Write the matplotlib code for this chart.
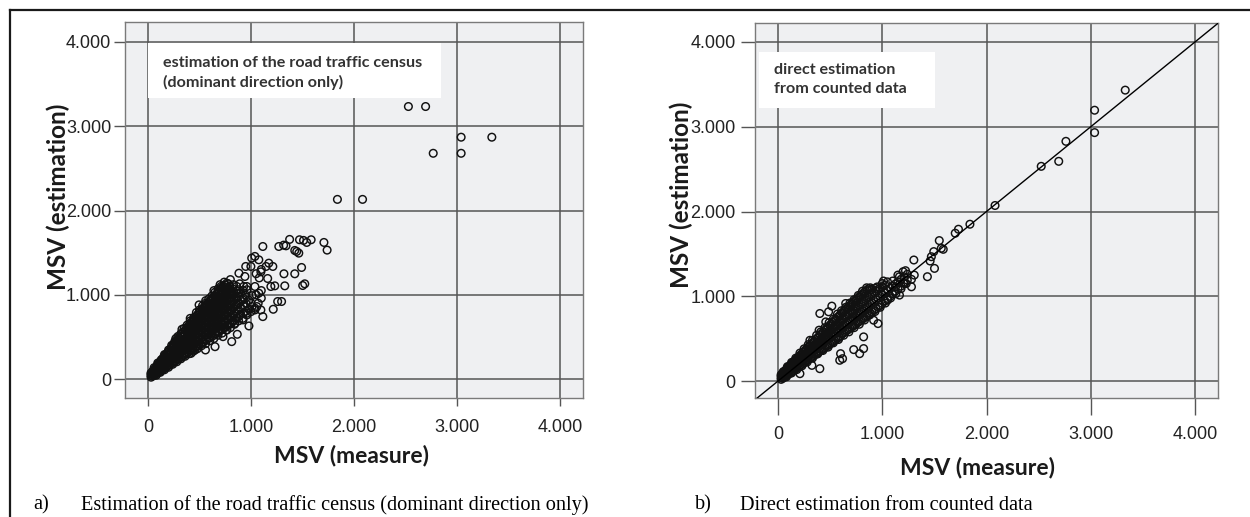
import matplotlib
matplotlib.use("Agg")
import matplotlib.pyplot as plt
from matplotlib.patches import Rectangle
from matplotlib.lines import Line2D
from matplotlib.ticker import FixedLocator, FixedFormatter

# ---------------- data ----------------
tick_values = [0, 1000, 2000, 3000, 4000]
tick_labels = ["0", "1.000", "2.000", "3.000", "4.000"]

# panel a) dense core: measured x -> estimated y values
a_core_x = [30, 45, 60, 75, 90, 105, 120, 135, 150, 165, 180, 195, 210, 225, 240, 255,
            270, 285, 300, 315, 330, 345, 360, 375, 390, 405, 420, 435, 450, 465, 480,
            495, 510, 525, 540, 555, 570, 585, 600, 615, 630, 645, 660, 675, 690, 705,
            720, 735, 750, 765, 780, 795, 810, 825, 840, 860, 880, 900, 925, 950, 980,
            1010]
a_core_y = [
    [22, 40, 58, 72], [35, 55, 75, 92], [45, 68, 90, 112], [58, 82, 106, 130],
    [70, 96, 122, 148, 162], [84, 110, 138, 165, 185], [95, 124, 154, 182, 208],
    [108, 140, 172, 204, 230], [120, 154, 188, 222, 255], [132, 168, 204, 240, 276],
    [145, 183, 221, 259, 298], [157, 197, 237, 278, 320], [170, 212, 255, 298, 340],
    [182, 226, 270, 315, 360], [195, 240, 286, 332, 378, 395],
    [206, 254, 302, 350, 398, 418], [218, 268, 318, 368, 418, 440],
    [230, 282, 334, 386, 438, 465], [243, 296, 350, 404, 458, 488],
    [255, 310, 366, 422, 478, 510], [268, 325, 382, 440, 498, 535],
    [280, 340, 400, 458, 518, 556], [292, 352, 412, 472, 532, 580],
    [305, 366, 428, 490, 552, 602], [318, 380, 444, 508, 572, 625],
    [330, 395, 460, 525, 590, 650],
    [342, 390, 438, 486, 534, 582, 630, 672], [365, 413, 461, 509, 557, 605, 653, 695],
    [366, 416, 466, 516, 566, 616, 666, 716], [390, 440, 490, 540, 590, 640, 690, 738],
    [390, 442, 494, 546, 598, 650, 702, 760], [415, 468, 521, 574, 627, 680, 733, 786],
    [415, 470, 525, 580, 635, 690, 745, 805], [440, 495, 550, 605, 660, 715, 770, 828],
    [440, 498, 556, 614, 672, 730, 788, 848], [465, 523, 581, 639, 697, 755, 813, 868],
    [465, 525, 585, 645, 705, 765, 825, 885], [490, 550, 610, 670, 730, 790, 850, 905],
    [490, 553, 616, 679, 742, 805, 868, 925], [515, 578, 641, 704, 767, 830, 893, 945],
    [512, 577, 642, 707, 772, 837, 902, 962], [540, 605, 670, 735, 800, 865, 930, 985],
    [538, 605, 672, 739, 806, 873, 940, 1002], [565, 632, 699, 766, 833, 900, 967, 1025],
    [562, 630, 698, 766, 834, 902, 970, 1042], [590, 658, 726, 794, 862, 930, 998, 1060],
    [588, 658, 728, 798, 868, 938, 1008, 1078], [612, 682, 752, 822, 892, 962, 1032, 1098],
    [612, 684, 756, 828, 900, 972, 1044, 1115], [638, 710, 782, 854, 926, 998, 1070, 1138],
    [638, 712, 786, 860, 934, 1008, 1080], [662, 736, 810, 884, 958, 1032, 1100],
    [662, 738, 814, 890, 966, 1042], [690, 766, 842, 918, 994, 1070],
    [700, 778, 856, 934, 1012], [725, 805, 885, 965, 1045], [740, 820, 900, 980, 1060],
    [765, 850, 935, 1020], [780, 870, 960, 1050], [805, 900, 995], [830, 935],
    [860, 990],
]
# panel a) ragged edge of the core
a_edge_x = [60, 95, 130, 160, 200, 230, 260, 290, 320, 350, 380, 410, 445, 470, 500, 530,
            560, 590, 620, 650, 680, 710, 740, 780, 800, 830, 860, 890, 930, 960, 270, 330,
            410, 480, 560, 640, 700,
            80, 120, 160, 200, 240, 280, 320, 360, 400, 440, 480, 520, 560, 600, 640, 680,
            720, 760, 800, 840, 880, 920, 960, 1000, 1040, 1070, 1100, 1000, 1050, 1100,
            1080, 1050, 1100]
a_edge_y = [135, 190, 230, 290, 345, 400, 445, 505, 540, 600, 640, 690, 730, 790, 820, 870,
            900, 950, 985, 1030, 1070, 1100, 1150, 1130, 1180, 1120, 1100, 1130, 1100, 1060,
            480, 590, 720, 760, 930, 1050, 1120,
            45, 80, 110, 140, 175, 205, 240, 270, 300, 330, 360, 395, 420, 455, 480, 520,
            545, 580, 610, 650, 690, 720, 760, 800, 840, 900, 960, 900, 1000, 1050,
            1200, 1250, 1300]
# panel a) scattered points
a_sc_x = [1375, 1471, 1510, 1541, 1584, 1708, 1739, 1444, 1425, 1115, 1270, 1317, 1340,
          1464, 1491, 1522, 1502, 1425, 1320, 1328, 1297, 1259, 1216, 980, 867, 813, 558,
          1115, 1038, 1231, 1193, 1162, 1212, 1146, 1076, 1007, 1038, 1173, 1096, 999,
          949, 941, 883, 960, 1038, 1076, 922, 1057, 1096, 883, 883, 805, 728, 496, 573,
          457, 418, 651, 728, 767, 960, 922, 844,
          1839, 2083, 2528, 2695, 2769, 3040, 3040, 3338]
a_sc_y = [1657, 1653, 1645, 1621, 1653, 1621, 1530, 1514, 1526, 1573, 1573, 1589, 1581,
          1494, 1324, 1130, 1110, 1249, 1249, 1106, 920, 920, 828, 630, 531, 444, 345,
          741, 820, 1106, 1098, 1193, 1336, 1336, 1415, 1435, 1455, 1375, 1272, 1336,
          1336, 1217, 1256, 1098, 1098, 1019, 939, 860, 820, 900, 1019, 1019, 1098, 880,
          880, 345, 305, 384, 503, 583, 781, 702, 662,
          2132, 2132, 3234, 3234, 2679, 2870, 2679, 2870]

# panel b) dense core
b_core_x = [30, 45, 60, 75, 90, 105, 120, 135, 150, 165, 180, 195, 210, 225, 240, 255,
            270, 285, 300, 315, 330, 345, 360, 375, 390, 405, 420, 435, 450, 465, 480,
            495, 510, 525, 540, 555, 570, 585, 600, 615, 630, 645, 660, 675, 690, 705,
            720, 735, 750, 765, 780, 795, 810, 825, 840, 855, 870, 885, 900, 920, 940,
            960, 980, 1000, 1025, 1050, 1075, 1100, 1125, 1150, 1180, 1210, 1240]
b_core_y = [
    [20, 40, 60, 75], [32, 54, 76, 94], [45, 68, 92, 112], [58, 84, 110, 132],
    [72, 99, 126, 150], [85, 114, 143, 170], [98, 129, 160, 188], [112, 145, 178, 206],
    [126, 160, 194, 225], [140, 176, 212, 244], [153, 191, 229, 262],
    [166, 206, 246, 282], [180, 221, 262, 300], [194, 237, 280, 318],
    [207, 252, 297, 338], [220, 267, 314, 356], [234, 282, 330, 375],
    [248, 298, 348, 394], [262, 313, 364, 412], [275, 329, 383, 430],
    [288, 343, 398, 450], [302, 359, 416, 468], [315, 374, 433, 488],
    [328, 389, 450, 505], [342, 404, 466, 525], [355, 419, 483, 544],
    [368, 434, 500, 562], [382, 450, 518, 580], [396, 465, 534, 600],
    [410, 480, 550, 618], [422, 495, 568, 636], [436, 510, 584, 656],
    [450, 526, 602, 675], [464, 542, 620, 694], [476, 556, 636, 712],
    [490, 572, 654, 730], [504, 587, 670, 750], [518, 603, 688, 768],
    [530, 617, 704, 788], [555, 640, 725, 805], [568, 654, 740, 822],
    [582, 670, 758, 840], [595, 683, 771, 857], [608, 698, 788, 874],
    [622, 712, 802, 890], [635, 727, 819, 908], [650, 742, 834, 925],
    [662, 756, 850, 942], [676, 772, 868, 960], [690, 786, 882, 975],
    [703, 800, 897, 995], [716, 815, 914, 1012], [730, 830, 930, 1028],
    [745, 846, 947, 1045], [758, 860, 962, 1062], [770, 875, 980, 1075],
    [785, 890, 995, 1090], [800, 905, 1010, 1100], [815, 920, 1025],
    [835, 940, 1045], [855, 960, 1060], [875, 980, 1080], [895, 1000, 1095],
    [915, 1020, 1110], [945, 1045, 1130], [975, 1070], [1000, 1095], [1030, 1120],
    [1060, 1145], [1085, 1170], [1120, 1200], [1150, 1230], [1190, 1260],
]
# panel b) ragged edge of the core
b_edge_x = [50, 90, 130, 170, 210, 250, 290, 330, 370, 410, 450, 490, 530, 570, 610, 650,
            690, 730, 770, 810, 850, 900, 950, 1000, 1050, 1100, 1150, 1200,
            80, 130, 180, 230, 280, 330, 380, 430, 480, 530, 580, 630, 680, 730, 780, 830,
            880, 930, 980, 1030, 1080, 1130, 1180, 1230, 1280]
b_edge_y = [110, 170, 220, 270, 330, 380, 430, 480, 540, 580, 630, 690, 730, 790, 830, 870,
            920, 960, 1010, 1060, 1100, 1080, 1110, 1150, 1170, 1180, 1250, 1290,
            50, 95, 135, 180, 225, 270, 320, 360, 400, 450, 490, 540, 580, 630, 670, 720,
            780, 820, 870, 920, 980, 1030, 1090, 1150, 1200]
b_sc_x = [3331, 3037, 3037, 2762, 2693, 2525, 2082, 1841, 1731, 1700, 1547, 1566, 1585,
          1494, 1433, 1501, 1459, 1471, 1303, 1307, 1203, 1165, 1223, 959, 821, 726, 619,
          401, 485, 401, 592, 600, 718, 554, 649, 745, 936, 1012, 867, 516, 458, 394, 306,
          267, 821, 783, 917, 1051, 1165, 1280, 1127, 103, 210, 325]
b_sc_y = [3432, 3195, 2931, 2828, 2592, 2533, 2071, 1850, 1791, 1744, 1657, 1566, 1554,
          1527, 1231, 1329, 1416, 1467, 1428, 1250, 1160, 1231, 1302, 678, 521, 371, 264,
          797, 817, 146, 245, 323, 797, 718, 915, 915, 1093, 1180, 994, 884, 698, 600, 481,
          363, 383, 323, 718, 955, 1014, 1112, 1112, 166, 87, 185]

a_note = "estimation of the road traffic census\n(dominant direction only)"
b_note = "direct estimation\nfrom counted data"
a_caption = "Estimation of the road traffic census (dominant direction only)"
b_caption = "Direct estimation from counted data"

# ---------------- figure ----------------
W, H = 1250, 517
fig = plt.figure(figsize=(W / 100, H / 100), dpi=100)
fig.patch.set_facecolor("white")

def px_rect(l, r, t, b):
    return [l / W, 1 - b / H, (r - l) / W, (b - t) / H]

tick_font = dict(family="Liberation Sans", size=13, color="#222222")
ylabel_font = dict(family="Lato", weight="bold", size=17.5, color="#1a1a1a")
xlabel_font = dict(family="Lato", weight="bold", size=16.5, color="#1a1a1a")
note_font = dict(family="Lato", weight="bold", size=11.6, color="#333333")
cap_font = dict(family="Liberation Serif", size=14.6, color="black")

def expand(xs, ys):
    X, Y = [], []
    for x, group in zip(xs, ys):
        for y in group:
            X.append(x)
            Y.append(y)
    return X, Y

def setup(ax, xlim, ylim, xtick_len, xpad, ytick_len, ypad):
    ax.set_facecolor("#eff0f2")
    ax.set_xlim(*xlim)
    ax.set_ylim(*ylim)
    ax.xaxis.set_major_locator(FixedLocator(tick_values))
    ax.yaxis.set_major_locator(FixedLocator(tick_values))
    ax.xaxis.set_major_formatter(FixedFormatter(tick_labels))
    ax.yaxis.set_major_formatter(FixedFormatter(tick_labels))
    ax.grid(True, color="#555555", linewidth=1.1, zorder=1)
    ax.set_axisbelow(True)
    for s in ax.spines.values():
        s.set_color("#7a7a7a")
        s.set_linewidth(1.0)
    ax.tick_params(axis="x", length=xtick_len, width=1.0, color="#555555", pad=xpad)
    ax.tick_params(axis="y", length=ytick_len, width=1.0, color="#555555", pad=ypad)
    for lab in ax.get_xticklabels() + ax.get_yticklabels():
        lab.set_fontfamily(tick_font["family"])
        lab.set_fontsize(tick_font["size"])
        lab.set_color(tick_font["color"])

def scatter(ax, x, y):
    ax.scatter(x, y, s=30, facecolors="none", edgecolors="#111111",
               linewidths=1.05, alpha=1.0, zorder=3)

# ---- panel a ----
ax1 = fig.add_axes(px_rect(125, 583, 22, 398))
setup(ax1, (-223, 4223), (-225, 4237), 6, 9, 8, 2)
cx, cy = expand(a_core_x, a_core_y)
scatter(ax1, cx, cy)
scatter(ax1, a_edge_x, a_edge_y)
scatter(ax1, a_sc_x, a_sc_y)
ax1.add_patch(Rectangle((0.05, 0.797), 0.64, 0.147, transform=ax1.transAxes,
                        facecolor="white", edgecolor="none", zorder=4))
ax1.text(0.083, 0.865, a_note, transform=ax1.transAxes, ha="left", va="center",
         linespacing=1.45, zorder=5, **note_font)

# ---- panel b ----
ax2 = fig.add_axes(px_rect(755, 1218, 23, 398))
setup(ax2, (-221, 4221), (-200, 4224), 12, 8, 10, 4)
cx, cy = expand(b_core_x, b_core_y)
scatter(ax2, cx, cy)
scatter(ax2, b_edge_x, b_edge_y)
scatter(ax2, b_sc_x, b_sc_y)
ax2.axline((0, 0), slope=1, color="black", linewidth=1.0, zorder=4)
ax2.add_patch(Rectangle((0.009, 0.774), 0.38, 0.149, transform=ax2.transAxes,
                        facecolor="white", edgecolor="none", zorder=4))
ax2.text(0.041, 0.85, b_note, transform=ax2.transAxes, ha="left", va="center",
         linespacing=1.45, zorder=5, **note_font)

# axis labels
fig.text(58 / W, 1 - 197 / H, "MSV (estimation)", rotation=90, ha="center", va="center", **ylabel_font)
fig.text(681 / W, 1 - 195 / H, "MSV (estimation)", rotation=90, ha="center", va="center", **ylabel_font)
fig.text(352 / W, 1 - 455 / H, "MSV (measure)", ha="center", va="center", **xlabel_font)
fig.text(978 / W, 1 - 467 / H, "MSV (measure)", ha="center", va="center", **xlabel_font)

# captions
fig.text(33 / W, 1 - 505 / H, "a)", ha="left", va="center", **cap_font)
fig.text(81 / W, 1 - 505 / H, a_caption, ha="left", va="center", **cap_font)
fig.text(695 / W, 1 - 505 / H, "b)", ha="left", va="center", **cap_font)
fig.text(740 / W, 1 - 505 / H, b_caption, ha="left", va="center", **cap_font)

# outer frame lines
fig.add_artist(Line2D([10 / W, 1.0], [1 - 10 / H, 1 - 10 / H], transform=fig.transFigure,
                      color="#1a1a1a", linewidth=1.6))
fig.add_artist(Line2D([10 / W, 10 / W], [0.0, 1 - 10 / H], transform=fig.transFigure,
                      color="#1a1a1a", linewidth=1.6))

fig.savefig("out.png", dpi=100)
